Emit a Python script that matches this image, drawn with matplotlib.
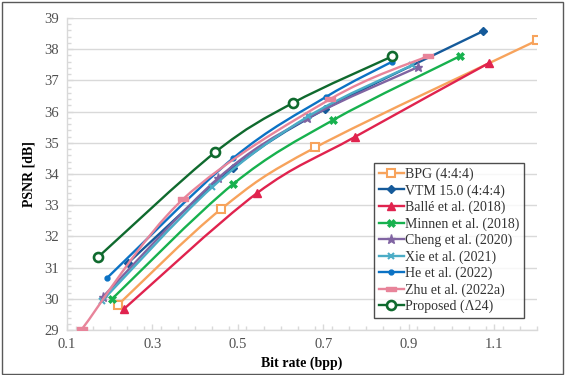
import matplotlib
matplotlib.use("Agg")
import matplotlib.pyplot as plt
from matplotlib.path import Path
from matplotlib.patches import PathPatch, Rectangle
from matplotlib.lines import Line2D
from matplotlib.ticker import MultipleLocator, FixedLocator
import numpy as np

plt.rcParams['font.family'] = ['Liberation Serif', 'DejaVu Serif']

names = ["BPG (4:4:4)", "VTM 15.0 (4:4:4)", "Ballé et al. (2018)", "Minnen et al. (2018)",
         "Cheng et al. (2020)", "Xie et al. (2021)", "He et al. (2022)", "Zhu et al. (2022a)",
         "Proposed (\u039b24)"]

bpg_x = [0.219, 0.461, 0.681, 1.200]
bpg_y = [29.80, 32.88, 34.85, 38.28]
vtm_x = [0.243, 0.489, 0.704, 1.074]
vtm_y = [31.15, 34.19, 36.08, 38.58]
balle_x = [0.233, 0.545, 0.774, 1.088]
balle_y = [29.67, 33.39, 35.19, 37.56]
minnen_x = [0.205, 0.489, 0.723, 1.020]
minnen_y = [29.99, 33.68, 35.73, 37.78]
cheng_x = [0.184, 0.454, 0.662, 0.922]
cheng_y = [30.06, 33.87, 35.78, 37.43]
xie_x = [0.182, 0.440, 0.665, 0.908]
xie_y = [29.93, 33.58, 35.85, 37.49]
he_x = [0.194, 0.489, 0.706, 0.861]
he_y = [30.67, 34.51, 36.47, 37.60]
zhu_x = [0.135, 0.372, 0.716, 0.945]
zhu_y = [29.03, 33.20, 36.40, 37.78]
prop_x = [0.173, 0.447, 0.629, 0.861]
prop_y = [31.34, 34.70, 36.28, 37.77]

xs = [bpg_x, vtm_x, balle_x, minnen_x, cheng_x, xie_x, he_x, zhu_x, prop_x]
ys = [bpg_y, vtm_y, balle_y, minnen_y, cheng_y, xie_y, he_y, zhu_y, prop_y]

colors = ['#F7A35C', '#155A9A', '#E0234E', '#17B14E', '#8064A2', '#4BACC6', '#0B72C4', '#E8849A', '#0F6A2E']
dash = [(-1, -0.45), (1, -0.45), (1, 0.45), (-1, 0.45), (-1, -0.45)]
markers = ['s', 'D', '^', 'X', '*', 'x', 'o', dash, 'o']
msizes = [5.5, 4.5, 5.5, 5.5, 6.5, 5, 3.5, 6.5, 6.5]
faces = ['white', None, None, None, None, None, None, None, 'white']
mews = [1.5, 1, 1, 0.5, 1, 1.5, 1, 1, 1.9]

fig = plt.figure(figsize=(5.68, 3.75), dpi=100)
fig.patches.append(Rectangle((0.004, 0.004), 0.987, 0.99, transform=fig.transFigure,
                             fill=False, edgecolor='#595959', linewidth=1.0))
ax = fig.add_axes([67/568, 1-330/375, (537-67)/568, (330-18)/375])


def smooth_path(x, y):
    pts = np.column_stack([x, y])
    n = len(pts)
    verts = [pts[0]]
    codes = [Path.MOVETO]
    for i in range(n - 1):
        p0 = pts[i - 1] if i > 0 else pts[i]
        p1 = pts[i]
        p2 = pts[i + 1]
        p3 = pts[i + 2] if i + 2 < n else pts[i + 1]
        c1 = p1 + (p2 - p0) / 6.0
        c2 = p2 - (p3 - p1) / 6.0
        verts += [c1, c2, p2]
        codes += [Path.CURVE4] * 3
    return Path(verts, codes)

handles = []
for i in range(len(names)):
    col = colors[i]
    ax.add_patch(PathPatch(smooth_path(xs[i], ys[i]), facecolor='none', edgecolor=col,
                           linewidth=1.7, zorder=3 + i * 0.1, capstyle='round'))
    fc = faces[i] if faces[i] else col
    ax.plot(xs[i], ys[i], linestyle='none', marker=markers[i], markersize=msizes[i],
            markerfacecolor=fc, markeredgecolor=col, markeredgewidth=mews[i], zorder=3.05 + i * 0.1)
    handles.append(Line2D([], [], color=col, linewidth=1.7, marker=markers[i],
                          markersize=msizes[i], markerfacecolor=fc, markeredgecolor=col,
                          markeredgewidth=mews[i]))

ax.set_xlim(0.1, 1.2)
ax.set_ylim(29, 39)
ax.xaxis.set_major_locator(FixedLocator([0.1, 0.3, 0.5, 0.7, 0.9, 1.1]))
ax.xaxis.set_minor_locator(MultipleLocator(0.04))
ax.yaxis.set_major_locator(MultipleLocator(1))
ax.yaxis.set_minor_locator(MultipleLocator(0.2))
ax.set_xticklabels(['0.1', '0.3', '0.5', '0.7', '0.9', '1.1'])
ax.grid(axis='y', which='major', color='#D9D9D9', linewidth=1.0)
ax.set_axisbelow(True)
for s in ['top', 'right']:
    ax.spines[s].set_visible(False)
for s in ['left', 'bottom']:
    ax.spines[s].set_color('#D9D9D9')
    ax.spines[s].set_linewidth(1.0)
ax.tick_params(which='both', direction='in', color='#D9D9D9', labelsize=10.5,
               labelcolor='#505050')
ax.tick_params(which='major', length=4, width=1, pad=6)
ax.tick_params(which='minor', length=3, width=1)

ax.set_xlabel('Bit rate (bpp)', fontsize=10, fontweight='bold', labelpad=4)
ax.set_ylabel('PSNR [dB]', fontsize=10, fontweight='bold', labelpad=6)

leg = ax.legend(handles, names, loc='lower left', bbox_to_anchor=(0.653, 0.038),
                fontsize=10, frameon=True, fancybox=False, handlelength=1.8,
                handletextpad=0.1, labelspacing=0.22, borderpad=0.35, borderaxespad=0)
leg.get_frame().set_edgecolor('#222222')
leg.get_frame().set_linewidth(1.0)
for t in leg.get_texts():
    t.set_color('#333333')

fig.savefig('out.png', dpi=100)
